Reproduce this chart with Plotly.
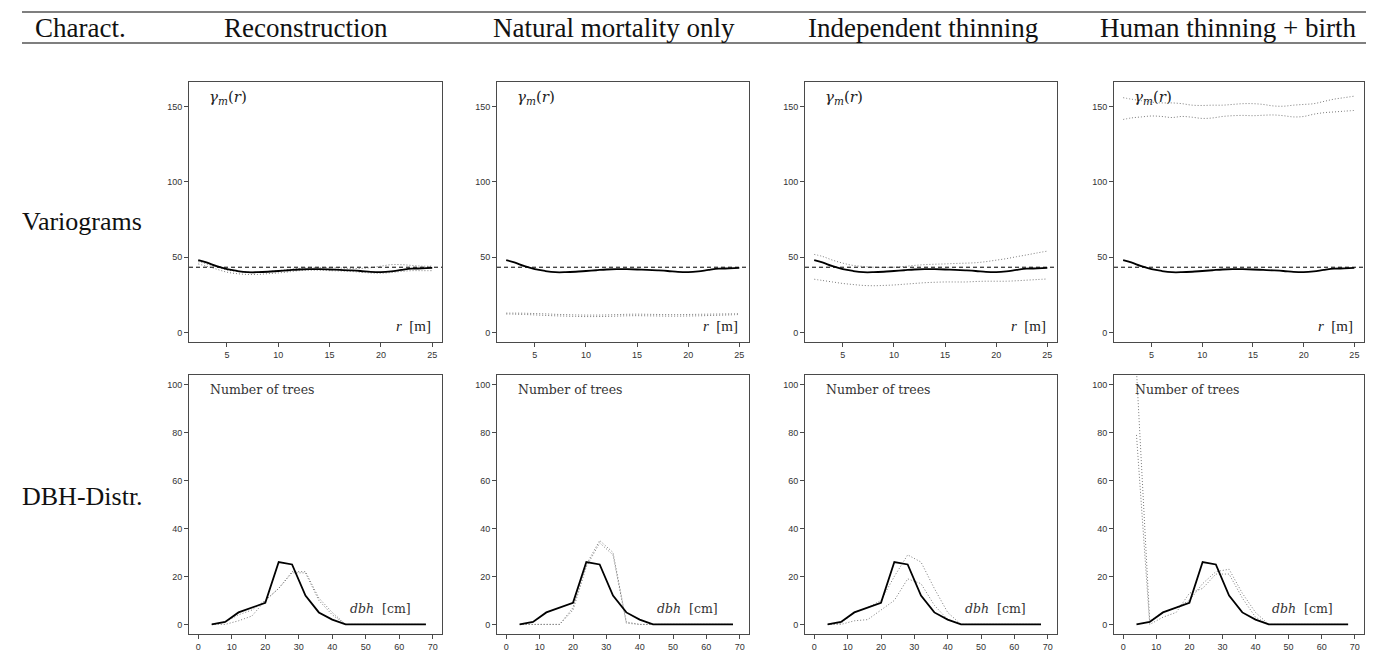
import plotly.graph_objects as go

# page is 1388x653; the html body adds an 8px margin, so the figure starts 8px in.
OFF = 8
W, H = 1388 - OFF, 653 - OFF

# ---------------- data ----------------
columns = ["Reconstruction", "Natural mortality only", "Independent thinning", "Human thinning + birth"]
row_labels = ["Variograms", "DBH-Distr."]
header_first = "Charact."

r_grid = [2.2, 3, 4, 5, 6, 7, 8, 9, 10, 11, 12, 13, 14, 15, 16, 17, 18, 19, 20, 21, 22, 23, 24, 25]
vario_ref = [48, 46.5, 44, 42, 40.8, 40, 40, 40.3, 40.8, 41.3, 41.8, 42, 42, 41.8, 41.5, 41.2,
             40.8, 40.2, 40.0, 40.5, 41.5, 42.3, 42.5, 42.8]
vario_level = 43.3

vario_upper = [
    [47, 45.5, 43.5, 41.5, 40.5, 40, 40, 40.5, 41, 41.8, 42.5, 43, 43, 43, 42.8, 42.5, 42.5, 43, 44, 45, 45, 44.5, 44, 44],
    [12.8, 12.8, 12.7, 12.5, 12.3, 12.0, 11.8, 11.6, 11.5, 11.5, 11.6, 11.8, 12.0, 12.1, 12.0, 11.9, 11.8, 11.8, 11.9, 12.0, 12.1, 12.2, 12.3, 12.5],
    [51.8, 50.5, 48, 46, 44.5, 43.8, 43.3, 43.2, 43.3, 43.8, 44.5, 45, 45.3, 45.5, 45.8, 46, 46.3, 47, 48, 49, 50.3, 51.5, 52.8, 54],
    [156, 155, 154, 153, 152.5, 152.5, 152, 151, 150.8, 151, 151, 151.5, 152, 152, 151.5, 150.5, 150.3, 151, 151.5, 152, 153.5, 155, 156, 157],
]
vario_lower = [
    [45.5, 44, 42, 40, 39, 38.5, 38.5, 39, 39.5, 40.2, 41, 41.3, 41.3, 41, 40.8, 40.5, 40, 39.5, 39.3, 39.8, 40.5, 41, 41, 41],
    [12.2, 12.1, 11.9, 11.6, 11.3, 11.0, 10.8, 10.6, 10.5, 10.5, 10.6, 10.8, 11.0, 11.1, 11.0, 10.9, 10.8, 10.8, 10.9, 11.0, 11.2, 11.4, 11.6, 11.9],
    [35.3, 34.5, 33.5, 32.5, 31.8, 31.2, 31, 31.2, 31.5, 32, 32.5, 33, 33.3, 33.5, 33.5, 33.5, 33.8, 34, 34, 34, 34.3, 34.7, 35.1, 35.5],
    [141.5, 142.5, 143.2, 143.8, 143.5, 142.8, 143.5, 143, 142.2, 142.5, 143.5, 144, 144.2, 144, 144.3, 144.5, 144, 143.2, 143.5, 145, 146, 146.5, 147, 147.5],
]

dbh = [4, 8, 12, 16, 20, 24, 28, 32, 36, 40, 44, 48, 52, 56, 60, 64, 68]
dbh_ref = [0, 1, 5, 7, 9, 26, 25, 12, 5, 2, 0, 0, 0, 0, 0, 0, 0]
dbh_upper = [
    [0, 1, 4, 6, 10, 15, 22, 22, 11, 5, 0, 0, 0, 0, 0, 0, 0],
    [0, 0, 0, 0, 7, 25, 35, 30, 1, 0, 0, 0, 0, 0, 0, 0, 0],
    [0, 0.5, 5, 7, 10, 20, 29, 26, 15, 5, 0, 0, 0, 0, 0, 0, 0],
    [106, 1.5, 5, 7, 10, 17, 22, 23, 13, 5, 0, 0, 0, 0, 0, 0, 0],
]
dbh_lower = [
    [0, 0, 1.5, 3.5, 10, 15, 21.5, 21.5, 10, 4, 0, 0, 0, 0, 0, 0, 0],
    [0, 0, 0, 0, 6, 24, 34, 29, 0.5, 0, 0, 0, 0, 0, 0, 0, 0],
    [0, 0, 1.5, 2, 6, 10, 19, 17, 8, 2, 0, 0, 0, 0, 0, 0, 0],
    [79, 0, 3, 5, 13, 15, 21, 21, 11, 3, 0, 0, 0, 0, 0, 0, 0],
]

vario_yticks = [0, 50, 100, 150]
vario_xticks = [5, 10, 15, 20, 25]
dbh_yticks = [0, 20, 40, 60, 80, 100]
dbh_xticks = [0, 10, 20, 30, 40, 50, 60, 70]

# ---------------- layout geometry (page pixels) ----------------
col_px = [(189, 442), (497, 749), (805, 1057), (1114, 1364)]
row_px = [(82, 342), (375, 634)]


def px_x(p):
    return (p - OFF) / W


def px_y(p):
    return 1 - (p - OFF) / H


SERIF = "Liberation Serif"
SERIF2 = "DejaVu Serif"
SANS = "Liberation Sans"
AXC = "#4a4a4a"

fig = go.Figure()
layout = dict(width=W, height=H, margin=dict(l=0, r=0, t=0, b=0, pad=0), autosize=False,
              paper_bgcolor="white", plot_bgcolor="white", showlegend=False)
annotations = []
shapes = []

idx = 0
for ri in range(2):
    for ci in range(4):
        idx += 1
        xa = "xaxis" if idx == 1 else f"xaxis{idx}"
        ya = "yaxis" if idx == 1 else f"yaxis{idx}"
        xr = "x" if idx == 1 else f"x{idx}"
        yr = "y" if idx == 1 else f"y{idx}"
        x0, x1 = col_px[ci]
        y0, y1 = row_px[ri]
        axcommon = dict(showgrid=False, zeroline=False, showline=True, mirror=True, automargin=False,
                        linecolor=AXC, linewidth=1, ticks="outside", ticklen=4,
                        tickcolor=AXC, tickfont=dict(family=SANS, size=9, color="#333"))
        if ri == 0:
            xrng, yrng = [1.3, 25.95], [-6.4, 166.4]
            xt, yt = vario_xticks, vario_yticks
        else:
            xrng, yrng = [-2.8, 72.8], [-4, 104]
            xt, yt = dbh_xticks, dbh_yticks
        layout[xa] = dict(domain=[px_x(x0), px_x(x1)], range=xrng, tickvals=xt, anchor=yr, **axcommon)
        layout[ya] = dict(domain=[px_y(y1), px_y(y0)], range=yrng, tickvals=yt, anchor=xr, **axcommon)

        dot = dict(color="#7a7a7a", width=1, dash="1px,2px")
        if ri == 0:
            for ser in (vario_upper[ci], vario_lower[ci]):
                fig.add_trace(go.Scatter(x=r_grid, y=ser, mode="lines", line=dict(shape="spline", **dot),
                                         xaxis=xr, yaxis=yr, hoverinfo="skip"))
            fig.add_trace(go.Scatter(x=r_grid, y=vario_ref, mode="lines",
                                     line=dict(color="black", width=1.8, shape="spline"),
                                     xaxis=xr, yaxis=yr, hoverinfo="skip"))
            shapes.append(dict(type="line", xref=f"{xr} domain", yref=yr, x0=0, x1=1,
                               y0=vario_level, y1=vario_level,
                               line=dict(color="black", width=1, dash="4px,3px")))
            annotations.append(dict(text="<i>γ</i><sub><i>m</i></sub>(<i>r</i>)", xref=f"{xr} domain",
                                    yref=f"{yr} domain", x=0.07, y=0.94, xanchor="left", yanchor="middle",
                                    showarrow=False, font=dict(family=SERIF2, size=15, color="#222")))
            annotations.append(dict(text="<i>r</i>  [m]", xref=f"{xr} domain", yref=f"{yr} domain",
                                    x=0.965, y=0.06, xanchor="right", yanchor="middle",
                                    showarrow=False, font=dict(family=SERIF, size=15, color="#222")))
        else:
            for ser in (dbh_upper[ci], dbh_lower[ci]):
                fig.add_trace(go.Scatter(x=dbh, y=ser, mode="lines", line=dot,
                                         xaxis=xr, yaxis=yr, hoverinfo="skip"))
            fig.add_trace(go.Scatter(x=dbh, y=dbh_ref, mode="lines",
                                     line=dict(color="black", width=1.8),
                                     xaxis=xr, yaxis=yr, hoverinfo="skip"))
            annotations.append(dict(text="Number of trees", xref=f"{xr} domain",
                                    yref=f"{yr} domain", x=0.075, y=0.945, xanchor="left", yanchor="middle",
                                    showarrow=False, font=dict(family=SERIF2, size=12.5, color="#333")))
            annotations.append(dict(text="<i>dbh</i>  [cm]", xref=f"{xr} domain", yref=f"{yr} domain",
                                    x=0.885, y=0.10, xanchor="right", yanchor="middle",
                                    showarrow=False, font=dict(family=SERIF2, size=12.5, color="#333")))

# header rules
for ypx in (12, 43):
    shapes.append(dict(type="line", xref="paper", yref="paper", x0=px_x(22), x1=px_x(1366),
                       y0=px_y(ypx), y1=px_y(ypx), line=dict(color="#555", width=1.5)))

header_x = [80, 306, 614, 923, 1228]
for txt, xc in zip([header_first] + columns, header_x):
    annotations.append(dict(text=txt, xref="paper", yref="paper", x=px_x(xc), y=px_y(28),
                            xanchor="center", yanchor="middle", showarrow=False,
                            font=dict(family=SERIF, size=27, color="#111")))

row_label_y = [222, 497]
for txt, ypx in zip(row_labels, row_label_y):
    annotations.append(dict(text=txt, xref="paper", yref="paper", x=px_x(20), y=px_y(ypx),
                            xanchor="left", yanchor="middle", showarrow=False,
                            font=dict(family=SERIF, size=26, color="#111")))

layout["annotations"] = annotations
layout["shapes"] = shapes
fig.update_layout(**layout)
fig.write_html("out.html")
